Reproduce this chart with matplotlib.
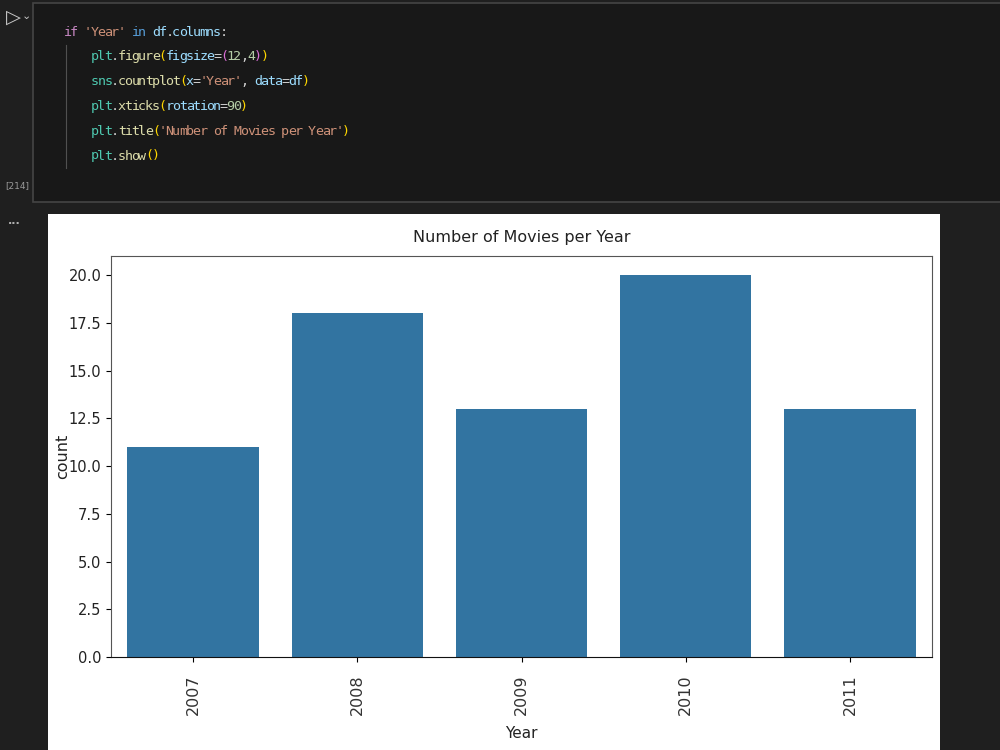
import matplotlib
matplotlib.use("Agg")
import matplotlib.pyplot as plt
from matplotlib.patches import Rectangle
from matplotlib.lines import Line2D

# data
years = ["2007", "2008", "2009", "2010", "2011"]
counts = [11, 18, 13, 20, 13]
yticks = [0.0, 2.5, 5.0, 7.5, 10.0, 12.5, 15.0, 17.5, 20.0]

# code cell text, (token, colour)
W, P, B, L, T, Y, G, N = "#d4d4d4", "#c586c0", "#569cd6", "#9cdcfe", "#4ec9b0", "#dcdcaa", "#ffd700", "#b5cea8"
S, M = "#ce9178", "#da70d6"
code_lines = [
    (0, [("if", P), (" ", W), ("'Year'", S), (" ", W), ("in", B), (" ", W), ("df", L), (".", W), ("columns", L), (":", W)]),
    (4, [("plt", T), (".", W), ("figure", Y), ("(", G), ("figsize", L), ("=", W), ("(", M), ("12", N), (",", W), ("4", N), (")", M), (")", G)]),
    (4, [("sns", T), (".", W), ("countplot", Y), ("(", G), ("x", L), ("=", W), ("'Year'", S), (", ", W), ("data", L), ("=", W), ("df", L), (")", G)]),
    (4, [("plt", T), (".", W), ("xticks", Y), ("(", G), ("rotation", L), ("=", W), ("90", N), (")", G)]),
    (4, [("plt", T), (".", W), ("title", Y), ("(", G), ("'Number of Movies per Year'", S), (")", G)]),
    (4, [("plt", T), (".", W), ("show", Y), ("(", G), (")", G)]),
]

fig = plt.figure(figsize=(10, 7.5), dpi=100)
fig.patch.set_facecolor("#1f1f1f")


def fx(x):
    return x / 1000.0


def fy(y):
    return 1 - y / 750.0


# code cell box
fig.patches.append(Rectangle((fx(33), fy(202)), fx(1000), fy(3) - fy(202), transform=fig.transFigure,
                             facecolor="#181818", edgecolor="#454545", linewidth=1.2, zorder=-10))
# indent guide
fig.lines.append(Line2D([fx(66), fx(66)], [fy(45), fy(168)], transform=fig.transFigure,
                        color="#505050", linewidth=0.8, zorder=-5))

fs_code = 9.6
cw = 6.8
for i, (indent, toks) in enumerate(code_lines):
    col = indent
    yy = 32 + i * 24.8
    for tok, c in toks:
        for ch in tok:
            if ch != " ":
                fig.text(fx(64 + col * cw + cw / 2), fy(yy), ch, color=c, fontsize=fs_code,
                         family="DejaVu Sans Mono", va="center", ha="center")
            col += 1

fig.text(fx(13), fy(17), "\u25b7", color="#c8c8c8", fontsize=14, va="center", ha="center")
fig.text(fx(26), fy(16), "\u2304", color="#c8c8c8", fontsize=8, va="center", ha="center")
fig.text(fx(17), fy(186), "[214]", color="#9a9a9a", fontsize=6.5, va="center", ha="center")
fig.text(fx(14), fy(221), "...", color="#b0b0b0", fontsize=8, va="center", ha="center", weight="bold")

# white output area
fig.patches.append(Rectangle((fx(48), 0), fx(940) - fx(48), fy(214), transform=fig.transFigure,
                             facecolor="white", edgecolor="none", zorder=-10))

ax = fig.add_axes([fx(111), fy(657), fx(932) - fx(111), fy(256) - fy(657)])
ax.set_zorder(5)
ax.bar(range(len(years)), counts, width=0.8, color="#3274a1")
ax.set_xlim(-0.5, 4.5)
ax.set_ylim(0, 21)
ax.set_yticks(yticks)
ax.set_yticklabels([f"{v:.1f}" for v in yticks], fontsize=10.5, color="#222222")
ax.set_xticks(range(len(years)))
ax.set_xticklabels(years, rotation=90, fontsize=11.5, color="#333333")
ax.tick_params(axis="x", pad=9)
ax.set_title("Number of Movies per Year", fontsize=11.5, pad=10, color="#222222")
ax.set_ylabel("count", fontsize=11.5, labelpad=-1, color="#222222")
ax.set_xlabel("Year", fontsize=11, labelpad=8, color="#222222")
for s in ["top", "right", "left"]:
    ax.spines[s].set_color("#555555")
ax.spines["bottom"].set_color("#111111")

fig.savefig("out.png", dpi=100, facecolor=fig.get_facecolor())
